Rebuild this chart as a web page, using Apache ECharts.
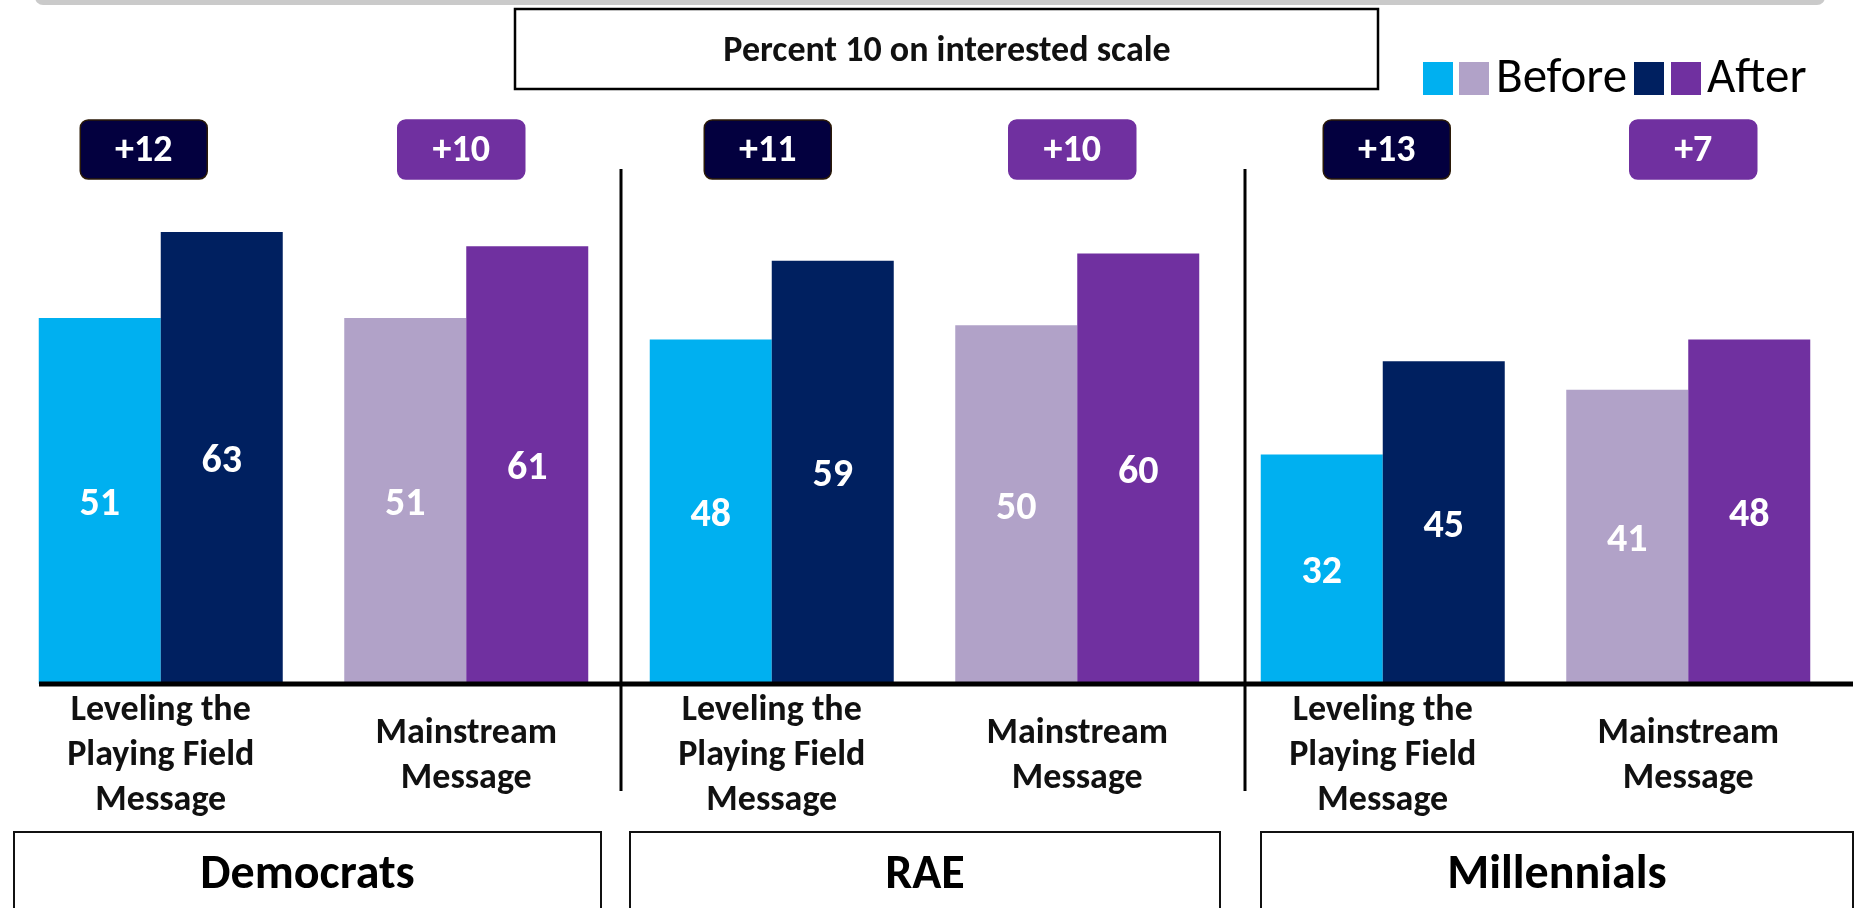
<!DOCTYPE html>
<html>
<head>
<meta charset="utf-8">
<script src="https://cdn.jsdelivr.net/npm/echarts@6/dist/echarts.min.js"></script>
<style>
  html, body { margin: 0; padding: 0; background: #fff; }
  #main { width: 1856px; height: 908px; }
</style>
</head>
<body>
<div id="main"></div>
<script>
// data
const categories = [
  'Leveling the\nPlaying Field\nMessage', 'Mainstream\nMessage',
  'Leveling the\nPlaying Field\nMessage', 'Mainstream\nMessage',
  'Leveling the\nPlaying Field\nMessage', 'Mainstream\nMessage'
];
const groups = ['Democrats', 'RAE', 'Millennials'];
const before = [51, 51, 48, 50, 32, 41];
const after = [63, 61, 59, 60, 45, 48];
const change = [12, 10, 11, 10, 13, 7];
const titleText = 'Percent 10 on interested scale';

// colours: index 0 = Leveling message, 1 = Mainstream message
const beforeColors = ['#00B0F0', '#B1A2C8'];
const afterColors = ['#002060', '#7030A0'];
const badgeColors = ['#03003F', '#7030A0'];

const FONT = 'Carlito, Lato, "Open Sans", sans-serif';
const BADGE_Y = 74.5;
const badgeNudge = [-17, -5, -4, -5, 4, 5];

const dom = document.getElementById('main');
const myChart = echarts.init(dom);

const graphics = [
  // grey strip at the very top
  { type: 'rect', shape: { x: 35, y: -12, width: 1790, height: 17, r: 8 }, style: { fill: '#CACACA' } },
  // title box
  { type: 'rect', shape: { x: 515, y: 9, width: 863, height: 80 }, style: { fill: '#fff', stroke: '#000', lineWidth: 2.5 } },
  { type: 'text', x: 947, y: 52, style: { text: titleText, fill: '#111', font: 'bold 36px ' + FONT, align: 'center', verticalAlign: 'middle' } },
  // legend
  { type: 'rect', shape: { x: 1423, y: 62, width: 30, height: 33 }, style: { fill: beforeColors[0] } },
  { type: 'rect', shape: { x: 1459, y: 62, width: 30, height: 33 }, style: { fill: beforeColors[1] } },
  { type: 'text', x: 1496, y: 80, style: { text: 'Before', fill: '#000', font: '49px ' + FONT, verticalAlign: 'middle' } },
  { type: 'rect', shape: { x: 1634, y: 62, width: 30, height: 33 }, style: { fill: afterColors[0] } },
  { type: 'rect', shape: { x: 1671, y: 62, width: 30, height: 33 }, style: { fill: afterColors[1] } },
  { type: 'text', x: 1707, y: 80, style: { text: 'After', fill: '#000', font: '49px ' + FONT, verticalAlign: 'middle' } },
  // separators
  { type: 'line', shape: { x1: 621, y1: 169, x2: 621, y2: 791 }, style: { stroke: '#000', lineWidth: 3 }, z: 10 },
  { type: 'line', shape: { x1: 1245, y1: 169, x2: 1245, y2: 791 }, style: { stroke: '#000', lineWidth: 3 }, z: 10 },
  // baseline
  { type: 'line', shape: { x1: 39, y1: 684, x2: 1853, y2: 684 }, style: { stroke: '#000', lineWidth: 5 }, z: 10 }
];

const groupBoxes = [[14, 587], [630, 590], [1261, 592]];
groups.forEach(function (g, i) {
  const b = groupBoxes[i];
  graphics.push({ type: 'rect', shape: { x: b[0], y: 832, width: b[1], height: 100 }, style: { fill: '#fff', stroke: '#111', lineWidth: 2 } });
  graphics.push({ type: 'text', x: b[0] + b[1] / 2, y: 876, style: { text: g, fill: '#000', font: 'bold 48px ' + FONT, align: 'center', verticalAlign: 'middle' } });
});

const barLabel = {
  show: true, position: 'inside', offset: [0, 4],
  color: '#fff', fontFamily: FONT, fontWeight: 'bold', fontSize: 40
};

myChart.setOption({
  animation: false,
  backgroundColor: '#fff',
  grid: { left: 8, right: 15, top: 110, bottom: 224 },
  xAxis: {
    type: 'category',
    data: categories,
    axisLine: { show: false },
    axisTick: { show: false },
    axisLabel: {
      interval: 0,
      margin: 72,
      verticalAlign: 'middle',
      color: '#111',
      fontFamily: FONT,
      fontWeight: 'bold',
      fontSize: 36,
      lineHeight: 45
    }
  },
  yAxis: { type: 'value', min: 0, max: 80, show: false, splitLine: { show: false } },
  series: [
    {
      name: 'Before',
      type: 'bar',
      barWidth: 122,
      barGap: '0%',
      data: before.map(function (v, i) { return { value: v, itemStyle: { color: beforeColors[i % 2] } }; }),
      label: barLabel
    },
    {
      name: 'After',
      type: 'bar',
      barWidth: 122,
      data: after.map(function (v, i) { return { value: v, itemStyle: { color: afterColors[i % 2] } }; }),
      label: barLabel
    },
    {
      name: 'Change',
      type: 'custom',
      data: change.map(function (c, i) { return [i, BADGE_Y, c]; }),
      renderItem: function (params, api) {
        const i = params.dataIndex;
        const pt = api.coord([i, BADGE_Y]);
        const w = 127, h = 59;
        const x = pt[0] - w / 2 + badgeNudge[i];
        const y = pt[1] - h / 2;
        return {
          type: 'group',
          children: [
            {
              type: 'rect',
              shape: { x: x, y: y, width: w, height: h, r: 8 },
              style: { fill: badgeColors[i % 2], stroke: i % 2 ? badgeColors[1] : '#2B1A08', lineWidth: 1.5 }
            },
            {
              type: 'text',
              style: {
                text: '+' + change[i], x: x + w / 2, y: pt[1] + 2,
                align: 'center', verticalAlign: 'middle',
                fill: '#fff', font: 'bold 38px ' + FONT
              }
            }
          ]
        };
      }
    }
  ],
  graphic: graphics
});
</script>
</body>
</html>
